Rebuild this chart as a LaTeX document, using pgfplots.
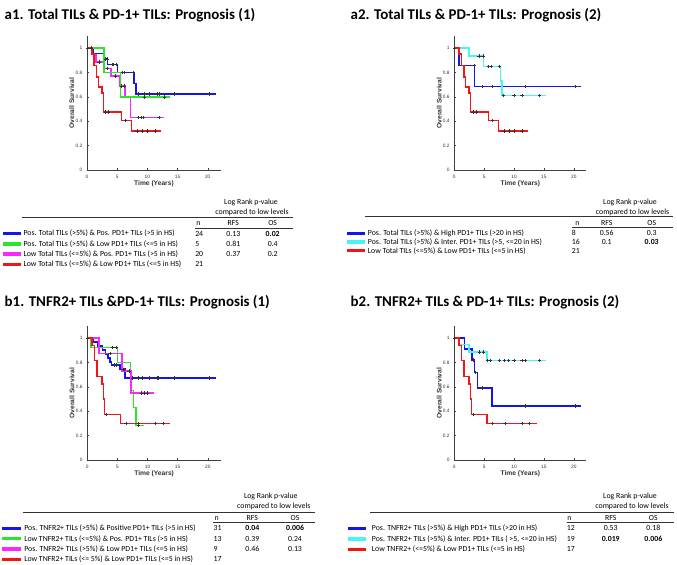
\documentclass[border=0pt]{standalone}
\usepackage{fontspec}
\setmainfont{Carlito}
\setsansfont{Liberation Sans}
\usepackage{pgfplots}
\pgfplotsset{compat=1.18}

\definecolor{kmblue}{RGB}{20,20,240}
\definecolor{kmgreen}{RGB}{40,230,40}
\definecolor{kmmag}{RGB}{250,40,250}
\definecolor{kmred}{RGB}{245,20,20}
\definecolor{kmcyan}{RGB}{70,245,245}

\newcommand\tf{\fontsize{5.85}{7}\selectfont}
\newcommand\ttl{\bfseries\fontsize{11.2}{13}\selectfont}

\pgfplotsset{
  km/.style={
    scale only axis, height=100.5pt,
    ymin=0, ymax=1.1, xmin=0,
    axis lines=left, axis line style={-, draw=black!75, line width=0.35pt},
    tick align=inside, major tick length=1.4pt,
    tick style={draw=black!75, line width=0.3pt},
    xtick={0,5,10,15,20}, xticklabels={0,5,10,15,20},
    ytick={0,0.2,0.4,0.6,0.8,1}, yticklabels={0,0.2,0.4,0.6,0.8,1},
    tick label style={font=\sffamily\fontsize{3.6}{4}\selectfont, text=black!80},
    xlabel={Time (Years)}, ylabel={Overall Survival},
    label style={font=\sffamily\bfseries\fontsize{5}{6}\selectfont, text=black!80},
    xlabel style={at={(axis description cs:0.5,-0.1)}, anchor=center},
    ylabel style={at={(axis description cs:-0.114,0.5)}, anchor=center},
    clip=false, anchor=origin,
  },
  surv/.style={line width=1.15pt, mark=none},
  cens/.style={only marks, mark=+, mark size=1.3pt, mark options={draw=black!80, line width=0.4pt}},
}

\begin{document}
\begin{tikzpicture}[x=0.75pt,y=-0.75pt]
\path[use as bounding box] (0,0) rectangle (677,564);
\coordinate (pa1) at (87,170);
\coordinate (pa2) at (454.3,170);
\coordinate (pb1) at (87.3,460);
\coordinate (pb2) at (454.3,460);

% ---------------- a1 ----------------
\node[anchor=base west, font=\ttl] at (0,19.3) {a1. Total TILs \& PD-1+ TILs: Prognosis (1)};
\begin{axis}[km, at={(pa1)}, width=100.5pt, xmax=22.2]
\addplot[surv, kmblue] coordinates {(0,1)(0.95,1)(0.95,0.958)(2.8,0.958)(2.8,0.913)(3.4,0.913)(3.4,0.866)(5.08,0.866)(5.08,0.80)(7.8,0.80)(7.8,0.71)(8.1,0.71)(8.1,0.622)(21.4,0.622)};
\addplot[surv, kmmag] coordinates {(0,1)(0.9,1)(0.9,0.95)(1.5,0.95)(1.5,0.885)(2.8,0.885)(2.8,0.835)(4.0,0.835)(4.0,0.77)(5.4,0.77)(5.4,0.69)(6.3,0.69)(6.3,0.60)(7.2,0.60)(7.2,0.43)(12.8,0.43)};
\addplot[surv, kmgreen] coordinates {(0,1)(2.85,1)(2.85,0.80)(5.55,0.80)(5.55,0.60)(13.7,0.60)};
\addplot[surv, kmred] coordinates {(0,1)(0.8,1)(0.8,0.952)(1.2,0.952)(1.2,0.857)(1.6,0.857)(1.6,0.762)(1.9,0.762)(1.9,0.683)(2.5,0.683)(2.5,0.63)(2.7,0.63)(2.7,0.476)(5.7,0.476)(5.7,0.408)(7.4,0.408)(7.4,0.32)(12.3,0.32)};
\addplot[cens] coordinates {(0.05,1)(0.65,1)
 (3.05,0.913)(3.3,0.913)(4.14,0.866)(4.42,0.866)(4.86,0.866)(5.9,0.80)(6.24,0.80)(7.73,0.80)
 (8.56,0.622)(9.5,0.622)(10.3,0.622)(11.6,0.622)(12.0,0.622)(14.5,0.622)(20.3,0.622)
 (2.0,0.885)(3.4,0.835)(4.7,0.77)(5.7,0.69)(6.2,0.69)(8.5,0.43)(9.0,0.43)(9.3,0.43)(11.9,0.43)
 (9.5,0.6)(12.8,0.6)
 (3.1,0.476)(3.6,0.476)(6.4,0.408)(8.3,0.32)(9.2,0.32)(10.0,0.32)(11.3,0.32)};
\end{axis}

% ---------------- a2 ----------------
\node[anchor=base west, font=\ttl] at (346,19.3) {a2. Total TILs \& PD-1+ TILs: Prognosis (2)};
\begin{axis}[km, at={(pa2)}, width=99pt, xmax=22.1]
\addplot[surv, kmblue] coordinates {(0,1)(0.75,1)(0.75,0.857)(3.35,0.857)(3.35,0.686)(21.2,0.686)};
\addplot[surv, kmcyan] coordinates {(0,1)(2.45,1)(2.45,0.9375)(4.9,0.9375)(4.9,0.85)(7.7,0.85)(7.7,0.73)(8.0,0.73)(8.0,0.61)(15.4,0.61)};
\addplot[surv, kmred] coordinates {(0,1)(0.8,1)(0.8,0.952)(1.2,0.952)(1.2,0.857)(1.6,0.857)(1.6,0.762)(1.9,0.762)(1.9,0.683)(2.5,0.683)(2.5,0.63)(2.7,0.63)(2.7,0.476)(5.7,0.476)(5.7,0.408)(7.4,0.408)(7.4,0.32)(12.3,0.32)};
\addplot[cens] coordinates {(0.05,1)
 (3.3,0.857)(4.6,0.686)(6.3,0.686)(11.8,0.686)(20.3,0.686)
 (4.15,0.9375)(4.8,0.9375)(5.7,0.85)(6.2,0.85)(7.6,0.85)(8.2,0.61)(10.0,0.61)(11.3,0.61)(14.3,0.61)
 (3.1,0.476)(3.6,0.476)(6.4,0.408)(8.3,0.32)(9.2,0.32)(10.0,0.32)(11.3,0.32)};
\end{axis}

% ---------------- b1 ----------------
\node[anchor=base west, font=\ttl] at (0,306) {b1. TNFR2+ TILs \&PD-1+ TILs: Prognosis (1)};
\begin{axis}[km, at={(pb1)}, width=100.3pt, xmax=22.2]
\addplot[surv, kmblue] coordinates {(0,1)(1.0,1)(1.0,0.968)(1.7,0.968)(1.7,0.935)(2.5,0.935)(2.5,0.903)(3.05,0.903)(3.05,0.87)(3.4,0.87)(3.4,0.838)(3.75,0.838)(3.75,0.806)(4.05,0.806)(4.05,0.78)(5.45,0.78)(5.45,0.745)(6.25,0.745)(6.25,0.673)(21.3,0.673)};
\addplot[surv, kmgreen] coordinates {(0,1)(0.6,1)(0.6,0.923)(5.0,0.923)(5.0,0.80)(7.2,0.80)(7.2,0.57)(7.7,0.57)(7.7,0.43)(8.05,0.43)(8.05,0.285)(9.45,0.285)};
\addplot[surv, kmmag] coordinates {(0,1)(1.95,1)(1.95,0.875)(5.8,0.875)(5.8,0.73)(7.25,0.73)(7.25,0.55)(11.0,0.55)};
\addplot[surv, kmred] coordinates {(0,1)(0.75,1)(0.75,0.94)(1.2,0.94)(1.2,0.815)(1.62,0.815)(1.62,0.687)(2.45,0.687)(2.45,0.625)(2.7,0.625)(2.7,0.5)(2.85,0.5)(2.85,0.375)(5.5,0.375)(5.5,0.30)(13.8,0.30)};
\addplot[cens] coordinates {(0.05,1)
 (4.5,0.78)(4.8,0.78)(5.9,0.745)(6.1,0.745)(7.5,0.673)(8.4,0.673)(9.2,0.673)(10.3,0.673)(11.6,0.673)(11.8,0.673)(14.4,0.673)(20.3,0.673)
 (4.2,0.923)(4.8,0.923)(8.5,0.285)
 (3.8,0.875)(6.9,0.73)(9.0,0.55)(9.4,0.55)(10.0,0.55)
 (3.2,0.375)(6.4,0.30)(8.5,0.30)(11.3,0.30)(12.6,0.30)};
\end{axis}

% ---------------- b2 ----------------
\node[anchor=base west, font=\ttl] at (346,306) {b2. TNFR2+ TILs \& PD-1+ TILs: Prognosis (2)};
\begin{axis}[km, at={(pb2)}, width=99pt, xmax=22.1]
\addplot[surv, kmblue] coordinates {(0,1)(1.72,1)(1.72,0.91)(3.0,0.91)(3.0,0.82)(3.35,0.82)(3.35,0.72)(3.9,0.72)(3.9,0.59)(6.35,0.59)(6.35,0.445)(21.2,0.445)};
\addplot[surv, kmcyan] coordinates {(0,1)(0.9,1)(0.9,0.947)(2.45,0.947)(2.45,0.885)(5.45,0.885)(5.45,0.815)(15.4,0.815)};
\addplot[surv, kmred] coordinates {(0,1)(0.75,1)(0.75,0.94)(1.2,0.94)(1.2,0.815)(1.62,0.815)(1.62,0.687)(2.45,0.687)(2.45,0.625)(2.7,0.625)(2.7,0.5)(2.85,0.5)(2.85,0.375)(5.5,0.375)(5.5,0.30)(13.8,0.30)};
\addplot[cens] coordinates {(0.05,1)
 (3.2,0.82)(3.55,0.72)(4.6,0.59)(11.8,0.445)(20.3,0.445)
 (4.2,0.885)(4.85,0.885)(5.6,0.815)(6.1,0.815)(7.6,0.815)(8.4,0.815)(9.1,0.815)(10.0,0.815)(11.3,0.815)(11.9,0.815)(14.3,0.815)
 (3.2,0.375)(6.4,0.30)(8.5,0.30)(11.3,0.30)(12.6,0.30)};
\end{axis}

% ---------------- tables ----------------
\begin{scope}[font=\tf]
% a1
\node at (251,202.7) {Log Rank p-value};
\node at (252,212.7) {compared to low levels};
\draw[line width=0.6pt, black!80] (21.7,217.3) -- (293,217.3);
\node at (198.3,223.3) {n};
\node at (233.3,223.3) {RFS};
\node at (272.7,223.3) {OS};
\draw[line width=0.4pt, black!80] (195,228.3) -- (293,228.3);
\foreach \yy/\cc/\lab/\nn/\rr/\oo in {
  233.5/kmblue/{Pos. Total TILs (>5\%) \& Pos. PD1+ TILs (>5 in HS)}/24/0.13/\textbf{0.02},
  243.8/kmgreen/{Pos. Total TILs (>5\%) \& Low PD1+ TILs (<=5 in HS)}/5/0.81/0.4,
  254/kmmag/{Low Total TILs (<=5\%) \& Pos. PD1+ TILs (>5 in HS)}/20/0.37/0.2,
  264.3/kmred/{Low Total TILs (<=5\%) \& Low PD1+ TILs (<=5 in HS)}/21//}{
  \fill[\cc] (2.7,\yy-1.7) rectangle (20.7,\yy+1.7);
  \node[anchor=west, inner sep=0pt] at (23.3,\yy) {\lab};
  \node[anchor=west, inner sep=0pt] at (195,\yy) {\nn};
  \node at (233.3,\yy) {\rr};
  \node at (272.7,\yy) {\oo};
}
% a2
\node at (630,202.7) {Log Rank p-value};
\node at (632.5,212.7) {compared to low levels};
\draw[line width=0.6pt, black!80] (365,216.7) -- (673.3,216.7);
\node at (577.3,223.3) {n};
\node at (606.7,223.3) {RFS};
\node at (651.7,223.3) {OS};
\draw[line width=0.4pt, black!80] (571.7,227.7) -- (673.3,227.7);
\foreach \yy/\cc/\lab/\nn/\rr/\oo in {
  233.3/kmblue/{Pos. Total TILs (>5\%) \& High PD1+ TILs (>20 in HS)}/8/0.56/0.3,
  242/kmcyan/{Pos. Total TILs (>5\%) \& Inter. PD1+ TILs (>5, <=20 in HS)}/16/0.1/\textbf{0.03},
  250.7/kmred/{Low Total TILs (<=5\%) \& Low PD1+ TILs (<=5 in HS)}/21//}{
  \fill[\cc] (346.7,\yy-1.7) rectangle (365,\yy+1.7);
  \node[anchor=west, inner sep=0pt] at (367.7,\yy) {\lab};
  \node[anchor=west, inner sep=0pt] at (571.7,\yy) {\nn};
  \node at (606.7,\yy) {\rr};
  \node at (651.7,\yy) {\oo};
}
% b1
\node at (270.8,496.7) {Log Rank p-value};
\node at (273.8,506.7) {compared to low levels};
\draw[line width=0.6pt, black!80] (22.7,512.3) -- (315,512.3);
\node at (216.7,518.3) {n};
\node at (252.3,518.3) {RFS};
\node at (295,518.3) {OS};
\draw[line width=0.4pt, black!80] (213,522.3) -- (315,522.3);
\foreach \yy/\cc/\lab/\nn/\rr/\oo in {
  528.3/kmblue/{Pos. TNFR2+ TILs (>5\%) \& Positive PD1+ TILs (>5 in HS)}/31/\textbf{0.04}/\textbf{0.006},
  538.7/kmgreen/{Low TNFR2+ TILs (<=5\%) \& Pos. PD1+ TILs (>5 in HS)}/13/0.39/0.24,
  549/kmmag/{Pos. TNFR2+ TILs (>5\%) \& Low PD1+ TILs (<=5 in HS)}/9/0.46/0.13,
  559.3/kmred/{Low TNFR2+ TILs (<= 5\%) \& Low PD1+ TILs (<=5 in HS)}/17//}{
  \fill[\cc] (1.7,\yy-1.7) rectangle (20.7,\yy+1.7);
  \node[anchor=west, inner sep=0pt] at (24,\yy) {\lab};
  \node[anchor=west, inner sep=0pt] at (213.3,\yy) {\nn};
  \node at (252.3,\yy) {\rr};
  \node at (295,\yy) {\oo};
}
% b2
\node at (630,496.7) {Log Rank p-value};
\node at (632,506.7) {compared to low levels};
\draw[line width=0.6pt, black!80] (370,512.3) -- (674.3,512.3);
\node at (569.3,518.3) {n};
\node at (610.7,518.3) {RFS};
\node at (653.3,518.3) {OS};
\draw[line width=0.4pt, black!80] (566.7,522.7) -- (674.3,522.7);
\foreach \yy/\cc/\lab/\nn/\rr/\oo in {
  528.3/kmblue/{Pos. TNFR2+ TILs (>5\%) \& High PD1+ TILs (>20 in HS)}/12/0.53/0.18,
  539/kmcyan/{Pos. TNFR2+ TILs (>5\%) \& Inter. PD1+ TILs ( >5, <=20 in HS)}/19/\textbf{0.019}/\textbf{0.006},
  549.3/kmred/{Low TNFR2+ (<=5\%) \& Low PD1+ TILs (<=5 in HS)}/17//}{
  \fill[\cc] (348.3,\yy-1.7) rectangle (366,\yy+1.7);
  \node[anchor=west, inner sep=0pt] at (371.7,\yy) {\lab};
  \node[anchor=west, inner sep=0pt] at (566.7,\yy) {\nn};
  \node at (610.7,\yy) {\rr};
  \node at (653.3,\yy) {\oo};
}
\end{scope}
\end{tikzpicture}
\end{document}
